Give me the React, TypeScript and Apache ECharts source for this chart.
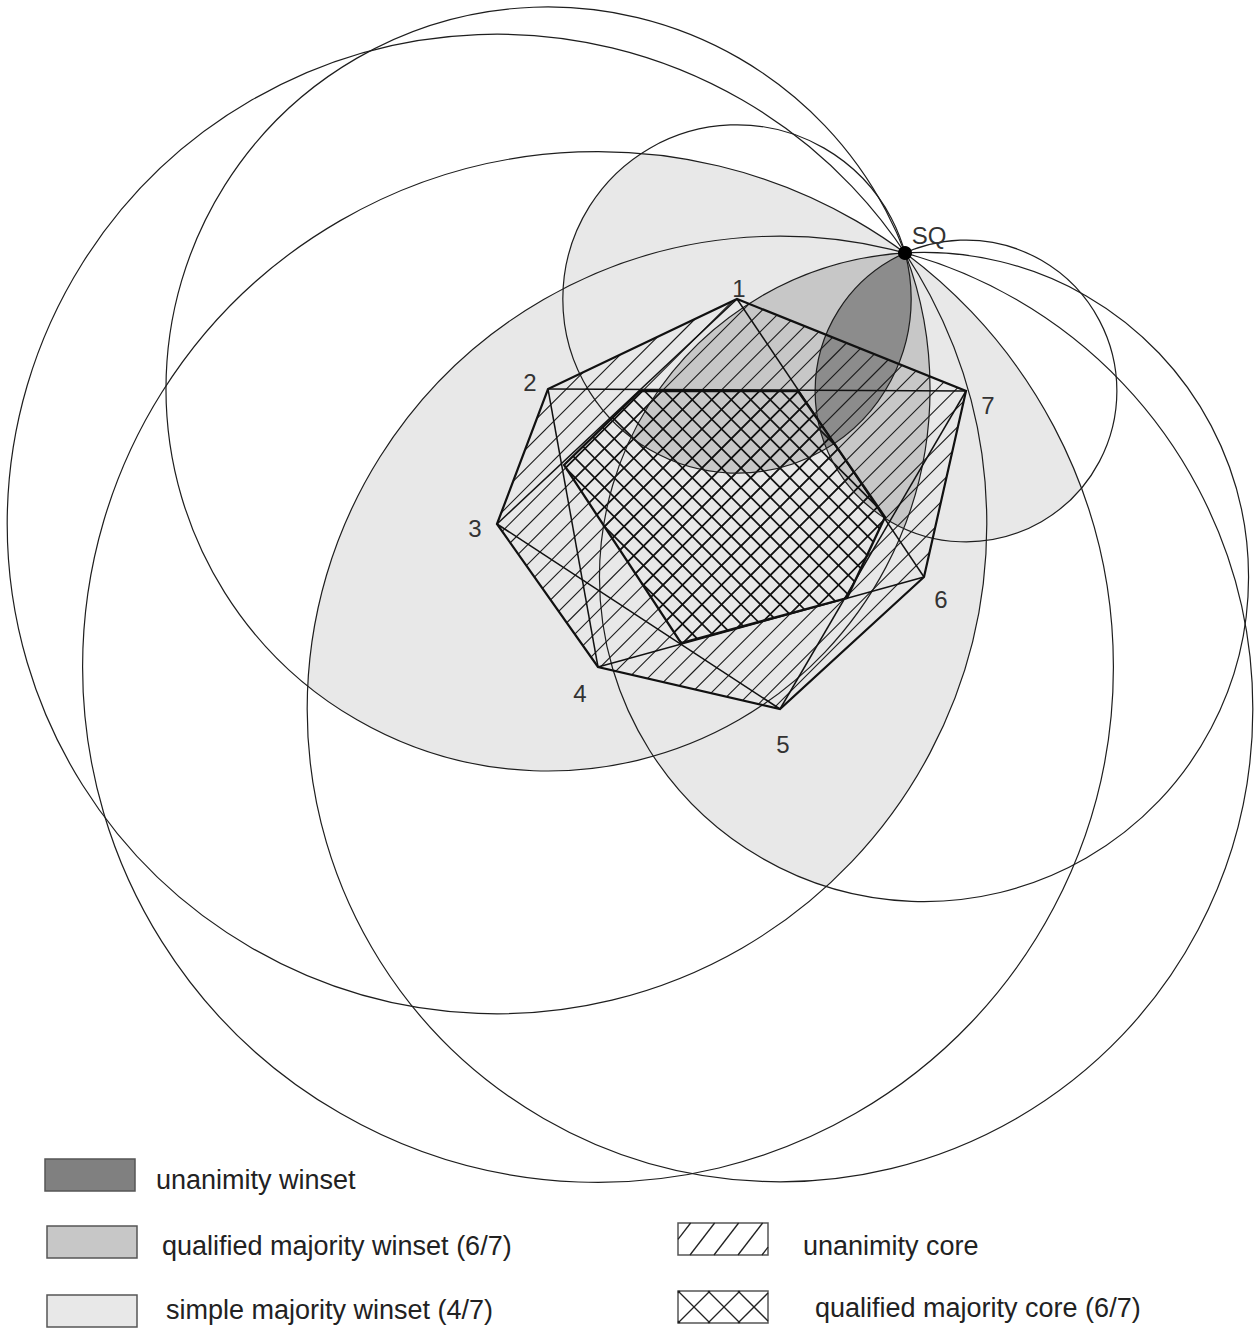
import React, { useEffect, useRef } from "react";
import * as echarts from "echarts";

type P = [number, number];

// ---- data ----
const voterLabels = ["1", "2", "3", "4", "5", "6", "7"];
const idealX = [737, 548, 497, 598, 780, 924, 966];
const idealY = [299, 389, 524, 667, 709, 577, 391];
const statusQuoLabel = "SQ";
const statusQuo: P = [905, 253];
const simpleMajority = 4;
const qualifiedMajority = 6;
// qualified majority core (6/7) as drawn in the reference
const qualifiedCoreX = [564, 640, 798, 885, 847, 681];
const qualifiedCoreY = [465, 391, 391, 517, 598, 643];
const legendLabels = [
  "unanimity winset",
  "qualified majority winset (6/7)",
  "simple majority winset (4/7)",
  "unanimity core",
  "qualified majority core (6/7)",
];

// ---- styling (not data) ----
const labelOffsets: P[] = [[2, -11], [-18, -7], [-22, 4], [-18, 26], [3, 35], [17, 22], [22, 14]];
const sqOffset: P = [24, -18];
const LIGHT = "#e8e8e8";
const MEDIUM = "#c7c7c7";
const DARK = "#8c8c8c";
const HATCH = 19.5;

const centers: P[] = idealX.map((x, i) => [x, idealY[i]]);
const radii = centers.map((c) => Math.hypot(c[0] - statusQuo[0], c[1] - statusQuo[1]));

function insideCircle(p: P, j: number, eps = 1e-6) {
  return Math.hypot(p[0] - centers[j][0], p[1] - centers[j][1]) <= radii[j] + eps;
}

function hull(pts: P[]): P[] {
  const s = pts.slice().sort((a, b) => a[0] - b[0] || a[1] - b[1]);
  if (s.length < 3) return s;
  const cross = (o: P, a: P, b: P) => (a[0] - o[0]) * (b[1] - o[1]) - (a[1] - o[1]) * (b[0] - o[0]);
  const lower: P[] = [];
  for (const p of s) {
    while (lower.length >= 2 && cross(lower[lower.length - 2], lower[lower.length - 1], p) <= 0) lower.pop();
    lower.push(p);
  }
  const upper: P[] = [];
  for (let i = s.length - 1; i >= 0; i--) {
    const p = s[i];
    while (upper.length >= 2 && cross(upper[upper.length - 2], upper[upper.length - 1], p) <= 0) upper.pop();
    upper.push(p);
  }
  upper.pop();
  lower.pop();
  return lower.concat(upper);
}

function reflect(q: P, a: P, b: P): P {
  const dx = b[0] - a[0], dy = b[1] - a[1];
  const t = ((q[0] - a[0]) * dx + (q[1] - a[1]) * dy) / (dx * dx + dy * dy);
  const fx = a[0] + t * dx, fy = a[1] + t * dy;
  return [2 * fx - q[0], 2 * fy - q[1]];
}

function circleIntersection(idx: number[]): P[] {
  const pts: P[] = [[statusQuo[0], statusQuo[1]]];
  const N = 1440;
  for (const i of idx) {
    for (let k = 0; k < N; k++) {
      const a = (2 * Math.PI * k) / N;
      const p: P = [centers[i][0] + radii[i] * Math.cos(a), centers[i][1] + radii[i] * Math.sin(a)];
      if (idx.every((j) => j === i || insideCircle(p, j))) pts.push(p);
    }
  }
  for (let a = 0; a < idx.length; a++)
    for (let b = a + 1; b < idx.length; b++) {
      const r = reflect(statusQuo, centers[idx[a]], centers[idx[b]]);
      if (idx.every((j) => insideCircle(r, j, 1e-4))) pts.push(r);
    }
  return hull(pts);
}

function combos(n: number, k: number): number[][] {
  const out: number[][] = [];
  const rec = (start: number, cur: number[]) => {
    if (cur.length === k) { out.push(cur.slice()); return; }
    for (let i = start; i < n; i++) { cur.push(i); rec(i + 1, cur); cur.pop(); }
  };
  rec(0, []);
  return out;
}

function winset(k: number): P[][] {
  return combos(centers.length, k).map(circleIntersection).filter((p) => p.length > 2);
}

function centroid(poly: P[]): P {
  let x = 0, y = 0;
  poly.forEach((p) => { x += p[0]; y += p[1]; });
  return [x / poly.length, y / poly.length];
}

function clipSegment(p0: P, p1: P, poly: P[]): [P, P] | null {
  const c = centroid(poly);
  const d: P = [p1[0] - p0[0], p1[1] - p0[1]];
  let tE = 0, tL = 1;
  for (let i = 0; i < poly.length; i++) {
    const a = poly[i], b = poly[(i + 1) % poly.length];
    let n: P = [-(b[1] - a[1]), b[0] - a[0]];
    if ((c[0] - a[0]) * n[0] + (c[1] - a[1]) * n[1] < 0) n = [-n[0], -n[1]];
    const num = (p0[0] - a[0]) * n[0] + (p0[1] - a[1]) * n[1];
    const den = d[0] * n[0] + d[1] * n[1];
    if (Math.abs(den) < 1e-12) { if (num < 0) return null; continue; }
    const t = -num / den;
    if (den > 0) tE = Math.max(tE, t); else tL = Math.min(tL, t);
    if (tE > tL) return null;
  }
  return [[p0[0] + tE * d[0], p0[1] + tE * d[1]], [p0[0] + tL * d[0], p0[1] + tL * d[1]]];
}

function hatchLines(poly: P[], dir: 1 | -1, step: number): [P, P][] {
  // dir 1: "/" lines x + y = c ; dir -1: "\" lines x - y = c
  const vals = poly.map((p) => (dir === 1 ? p[0] + p[1] : p[0] - p[1]));
  const lo = Math.floor(Math.min(...vals) / step) * step;
  const hi = Math.max(...vals);
  const res: [P, P][] = [];
  for (let c = lo; c <= hi; c += step) {
    const p0: P = dir === 1 ? [c + 3000, -3000] : [c - 3000, -3000];
    const p1: P = dir === 1 ? [c - 3000, 3000] : [c + 3000, 3000];
    const seg = clipSegment(p0, p1, poly);
    if (seg) res.push(seg);
  }
  return res;
}

export default function App() {
  const ref = useRef<HTMLDivElement>(null);
  useEffect(() => {
    if (!ref.current) return;
    document.body.style.margin = "0";
    const chart = echarts.init(ref.current, undefined, { renderer: "svg" });

    const n = centers.length;
    const unanimityCore = hull(centers);
    const qualifiedCore: P[] = qualifiedCoreX.map((x, i) => [x, qualifiedCoreY[i]]);
    const light = winset(simpleMajority);
    const medium = winset(qualifiedMajority);
    const dark = winset(n);

    const font = "Liberation Sans, Arial, sans-serif";

    const renderItem = (_params: any, api: any) => {
      const px = (p: P) => api.coord(p) as P;
      const children: any[] = [];
      const fillPolys = (polys: P[][], fill: string) =>
        polys.forEach((poly) =>
          children.push({ type: "polygon", shape: { points: poly.map(px) }, style: { fill, stroke: null } })
        );
      fillPolys(light, LIGHT);
      fillPolys(medium, MEDIUM);
      fillPolys(dark, DARK);

      const seg = ([a, b]: [P, P], w: number, color: string) => {
        const pa = px(a), pb = px(b);
        children.push({ type: "line", shape: { x1: pa[0], y1: pa[1], x2: pb[0], y2: pb[1] }, style: { stroke: color, lineWidth: w } });
      };
      // hatching
      hatchLines(unanimityCore, 1, HATCH).forEach((s) => seg(s, 1.1, "#1a1a1a"));
      hatchLines(qualifiedCore, 1, HATCH).forEach((s) => seg(s, 1.7, "#111"));
      hatchLines(qualifiedCore, -1, HATCH).forEach((s) => seg(s, 1.7, "#111"));

      // indifference circles
      centers.forEach((c, i) => {
        const pc = px(c);
        const r = api.size([radii[i], 0])[0];
        children.push({ type: "circle", shape: { cx: pc[0], cy: pc[1], r }, style: { fill: null, stroke: "#1e1e1e", lineWidth: 1.2 } });
      });

      // lines joining i and i+2
      for (let i = 0; i < n; i++) seg([centers[i], centers[(i + 2) % n]], 1.5, "#111");
      // hull edges
      children.push({ type: "polygon", shape: { points: unanimityCore.map(px) }, style: { fill: null, stroke: "#111", lineWidth: 2.2 } });
      // qualified core outline
      children.push({ type: "polygon", shape: { points: qualifiedCore.map(px) }, style: { fill: null, stroke: "#111", lineWidth: 2.3 } });

      // status quo
      const sq = px(statusQuo);
      children.push({ type: "circle", shape: { cx: sq[0], cy: sq[1], r: 7 }, style: { fill: "#000" } });
      children.push({ type: "text", x: sq[0] + sqOffset[0], y: sq[1] + sqOffset[1], style: { text: statusQuoLabel, fontSize: 24, fontFamily: font, fill: "#333", align: "center", verticalAlign: "middle" } });
      centers.forEach((c, i) => {
        const pc = px(c);
        children.push({ type: "text", x: pc[0] + labelOffsets[i][0], y: pc[1] + labelOffsets[i][1], style: { text: voterLabels[i], fontSize: 24, fontFamily: font, fill: "#333", align: "center", verticalAlign: "middle" } });
      });
      return { type: "group", children };
    };

    // legend graphics
    const swatch = (x: number, y: number, fill: string) => ({
      type: "rect", shape: { x, y, width: 90, height: 32 }, style: { fill, stroke: "#555", lineWidth: 1.5 },
    });
    const rectPoly = (x: number, y: number, w: number, h: number): P[] => [[x, y], [x + w, y], [x + w, y + h], [x, y + h]];
    const swatchLines = (x: number, y: number, dirs: (1 | -1)[], step: number, slope: number) => {
      const poly = rectPoly(x, y, 90, 32);
      const out: any[] = [];
      dirs.forEach((dir) => {
        for (let c = x - 60; c <= x + 150; c += step) {
          const a: P = dir === 1 ? [c, y + 32] : [c, y];
          const b: P = dir === 1 ? [c + 32 / slope, y] : [c + 32 / slope, y + 32];
          const s = clipSegment(
            [a[0] - (b[0] - a[0]) * 5, a[1] - (b[1] - a[1]) * 5],
            [b[0] + (b[0] - a[0]) * 5, b[1] + (b[1] - a[1]) * 5],
            poly
          );
          if (s) out.push({ type: "line", shape: { x1: s[0][0], y1: s[0][1], x2: s[1][0], y2: s[1][1] }, style: { stroke: "#222", lineWidth: 1.3 } });
        }
      });
      return out;
    };
    const legendText = (x: number, y: number, text: string) => ({
      type: "text", x, y, style: { text, fontSize: 27, fontFamily: font, fill: "#222", verticalAlign: "middle" },
    });

    const graphic: any[] = [
      swatch(45, 1159, "#808080"), legendText(156, 1180, legendLabels[0]),
      swatch(47, 1226, MEDIUM), legendText(162, 1246, legendLabels[1]),
      swatch(47, 1295, LIGHT), legendText(166, 1310, legendLabels[2]),
      { type: "rect", shape: { x: 678, y: 1223, width: 90, height: 32 }, style: { fill: "#fff", stroke: "#555", lineWidth: 1.5 } },
      ...swatchLines(678, 1223, [1], 24, 1.3),
      legendText(803, 1246, legendLabels[3]),
      { type: "rect", shape: { x: 678, y: 1291, width: 90, height: 32 }, style: { fill: "#fff", stroke: "#555", lineWidth: 1.5 } },
      ...swatchLines(678, 1291, [1, -1], 30, 1),
      legendText(815, 1308, legendLabels[4]),
    ];

    chart.setOption({
      animation: false,
      backgroundColor: "#fff",
      grid: { left: 0, right: 0, top: 0, bottom: 0 },
      xAxis: { type: "value", min: 0, max: 1257, show: false },
      yAxis: { type: "value", min: 0, max: 1332, inverse: true, show: false },
      series: [
        { type: "custom", coordinateSystem: "cartesian2d", data: [[0, 0]], renderItem, silent: true, clip: false },
      ],
      graphic,
    });
    return () => chart.dispose();
  }, []);
  return <div ref={ref} style={{ position: "absolute", left: 0, top: 0, width: 1257, height: 1332 }} />;
}
